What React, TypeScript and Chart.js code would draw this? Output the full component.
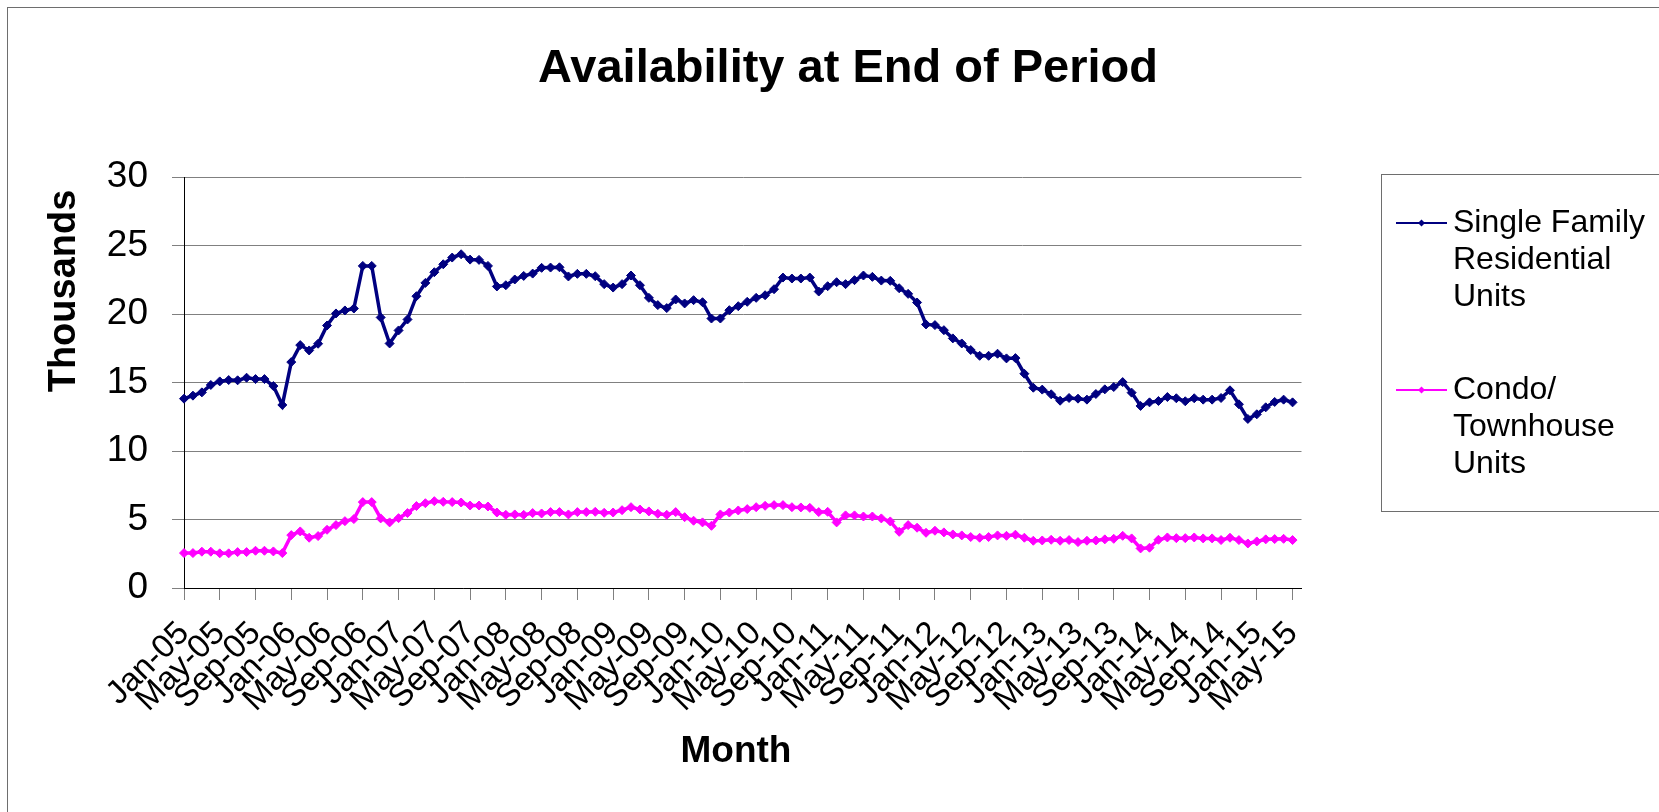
import React, { useEffect, useRef } from 'react';
import { Chart, registerables } from 'chart.js';

Chart.register(...registerables);

const MONTHS = ['Jan', 'Feb', 'Mar', 'Apr', 'May', 'Jun', 'Jul', 'Aug', 'Sep', 'Oct', 'Nov', 'Dec'];
const YEARS = ['05', '06', '07', '08', '09', '10', '11', '12', '13', '14', '15'];
const ALL_MONTHS: string[] = [];
for (const y of YEARS) for (const m of MONTHS) ALL_MONTHS.push(`${m}-${y}`);
// Jan-05 .. Jun-15 (last category is empty, as in the source sheet)
const CATEGORIES = ALL_MONTHS.slice(0, 126);

const TITLE = 'Availability at End of Period';
const X_TITLE = 'Month';
const Y_TITLE = 'Thousands';
const SERIES_NAMES = [['Single Family', 'Residential', 'Units'], ['Condo/', 'Townhouse', 'Units']];
const Y_TICKS = [0, 5, 10, 15, 20, 25, 30];

const SINGLE_FAMILY = [
  13.82, 14.04, 14.28, 14.82, 15.08, 15.18, 15.16, 15.35, 15.25, 15.25,
  14.74, 13.36, 16.49, 17.73, 17.34, 17.83, 19.16, 20.04, 20.26, 20.40,
  23.51, 23.51, 19.75, 17.85, 18.80, 19.60, 21.30, 22.27, 23.05, 23.63,
  24.12, 24.36, 23.97, 23.95, 23.51, 22.01, 22.10, 22.52, 22.78, 22.95,
  23.37, 23.39, 23.41, 22.74, 22.93, 22.93, 22.76, 22.18, 21.93, 22.18,
  22.81, 22.10, 21.18, 20.65, 20.43, 21.06, 20.77, 21.01, 20.86, 19.67,
  19.67, 20.28, 20.57, 20.89, 21.18, 21.37, 21.81, 22.66, 22.59, 22.59,
  22.66, 21.64, 22.03, 22.32, 22.18, 22.47, 22.81, 22.71, 22.44, 22.42,
  21.88, 21.47, 20.84, 19.24, 19.19, 18.82, 18.22, 17.85, 17.37, 16.95,
  16.95, 17.10, 16.76, 16.78, 15.64, 14.62, 14.48, 14.14, 13.67, 13.87,
  13.82, 13.75, 14.16, 14.50, 14.67, 15.03, 14.26, 13.29, 13.55, 13.65,
  13.94, 13.85, 13.63, 13.85, 13.75, 13.75, 13.87, 14.43, 13.41, 12.34,
  12.68, 13.19, 13.58, 13.75, 13.55,
];

const CONDO_TOWNHOUSE = [
  2.55, 2.55, 2.65, 2.65, 2.53, 2.53, 2.62, 2.62, 2.72, 2.72,
  2.67, 2.55, 3.86, 4.13, 3.67, 3.79, 4.25, 4.59, 4.88, 5.03,
  6.27, 6.27, 5.08, 4.79, 5.10, 5.47, 5.98, 6.19, 6.34, 6.29,
  6.27, 6.24, 6.02, 6.02, 5.95, 5.51, 5.34, 5.37, 5.34, 5.47,
  5.44, 5.54, 5.54, 5.37, 5.54, 5.54, 5.56, 5.49, 5.51, 5.68,
  5.90, 5.73, 5.59, 5.42, 5.34, 5.54, 5.17, 4.91, 4.79, 4.54,
  5.37, 5.51, 5.66, 5.76, 5.90, 6.00, 6.05, 6.05, 5.90, 5.88,
  5.85, 5.54, 5.56, 4.79, 5.30, 5.30, 5.22, 5.22, 5.08, 4.86,
  4.10, 4.59, 4.40, 4.03, 4.18, 4.06, 3.91, 3.84, 3.72, 3.67,
  3.72, 3.84, 3.81, 3.89, 3.67, 3.45, 3.47, 3.52, 3.45, 3.50,
  3.35, 3.45, 3.47, 3.55, 3.59, 3.81, 3.62, 2.89, 2.94, 3.52,
  3.69, 3.64, 3.64, 3.69, 3.62, 3.62, 3.50, 3.67, 3.50, 3.25,
  3.40, 3.55, 3.57, 3.59, 3.50,
];

const COLORS = ['#000080', '#FF00FF'];
const FONT = '"Liberation Sans", Arial, sans-serif';

const decorPlugin = {
  id: 'decor',
  afterDraw(chart: any) {
    const ctx = chart.ctx as CanvasRenderingContext2D;
    ctx.save();
    ctx.fillStyle = '#000';
    ctx.textAlign = 'center';
    ctx.textBaseline = 'alphabetic';
    ctx.font = `bold 47px ${FONT}`;
    ctx.fillText(TITLE, 848, 82);

    ctx.font = `bold 37px ${FONT}`;
    ctx.fillText(X_TITLE, 736, 762);

    ctx.font = `bold 38px ${FONT}`;
    ctx.save();
    ctx.translate(75, 291);
    ctx.rotate(-Math.PI / 2);
    ctx.fillText(Y_TITLE, 0, 0);
    ctx.restore();

    // legend box
    ctx.strokeStyle = '#6e6e6e';
    ctx.lineWidth = 1;
    ctx.strokeRect(1381.5, 174.5, 400, 337);

    const entryTops = [223, 390];
    const lineGap = 37;
    chart.data.datasets.forEach((ds: any, i: number) => {
      const y = entryTops[i];
      ctx.strokeStyle = ds.borderColor;
      ctx.lineWidth = 2;
      ctx.beginPath();
      ctx.moveTo(1396, y);
      ctx.lineTo(1447, y);
      ctx.stroke();
      ctx.fillStyle = ds.borderColor;
      ctx.beginPath();
      ctx.moveTo(1421.5, y - 3.5);
      ctx.lineTo(1425, y);
      ctx.lineTo(1421.5, y + 3.5);
      ctx.lineTo(1418, y);
      ctx.closePath();
      ctx.fill();
      ctx.fillStyle = '#000';
      ctx.textAlign = 'left';
      ctx.textBaseline = 'middle';
      ctx.font = `32px ${FONT}`;
      SERIES_NAMES[i].forEach((t, k) => ctx.fillText(t, 1453, y + k * lineGap));
    });
    ctx.restore();
  },
};

export default function App() {
  const ref = useRef<HTMLCanvasElement | null>(null);

  useEffect(() => {
    const canvas = ref.current;
    if (!canvas) return;
    const chart = new Chart(canvas, {
      type: 'line',
      data: {
        labels: CATEGORIES,
        datasets: [
          {
            label: SERIES_NAMES[0].join(' '),
            data: SINGLE_FAMILY,
            borderColor: COLORS[0],
            backgroundColor: COLORS[0],
            borderWidth: 3.5,
            pointStyle: 'rectRot',
            pointRadius: 4.5,
            pointBorderWidth: 1,
            tension: 0,
          },
          {
            label: SERIES_NAMES[1].join(' '),
            data: CONDO_TOWNHOUSE,
            borderColor: COLORS[1],
            backgroundColor: COLORS[1],
            borderWidth: 3.5,
            pointStyle: 'rectRot',
            pointRadius: 4.5,
            pointBorderWidth: 1,
            tension: 0,
          },
        ],
      },
      options: {
        responsive: false,
        animation: false,
        layout: { padding: { left: 0, top: 177, right: 357.5, bottom: 0 } },
        plugins: {
          legend: { display: false },
          title: { display: false },
          tooltip: { enabled: false },
        },
        scales: {
          x: {
            type: 'category',
            offset: false,
            afterFit: (s: any) => { s.height = 224; },
            border: { display: true, color: '#000', width: 1 },
            grid: {
              display: true,
              drawOnChartArea: false,
              drawTicks: true,
              tickLength: 12,
              color: '#808080',
              tickColor: '#808080',
            },
            ticks: {
              autoSkip: false,
              maxRotation: 45,
              minRotation: 45,
              padding: 14,
              color: '#000',
              font: { family: FONT, size: 33 },
              callback: (_v: any, i: number) => (i % 4 === 0 ? CATEGORIES[i] : null),
            },
          },
          y: {
            min: 0,
            max: 30,
            afterFit: (s: any) => { s.width = 184; },
            afterBuildTicks: (s: any) => { s.ticks = Y_TICKS.map((v) => ({ value: v })); },
            border: { display: true, color: '#000', width: 1 },
            grid: {
              color: '#808080',
              tickColor: '#808080',
              tickLength: 12,
              lineWidth: 1,
            },
            ticks: {
              padding: 24,
              color: '#000',
              font: { family: FONT, size: 37 },
            },
          },
        },
      },
      plugins: [decorPlugin],
    });
    return () => chart.destroy();
  }, []);

  return (
    <div style={{ position: 'fixed', left: 0, top: 0, width: 1659, height: 812, overflow: 'hidden', background: '#fff' }}>
      <div style={{ position: 'absolute', left: 7, top: 7, width: 1700, height: 900, border: '1px solid #6e6e6e' }} />
      <canvas ref={ref} width={1659} height={812} style={{ position: 'absolute', left: 0, top: 0 }} />
    </div>
  );
}
